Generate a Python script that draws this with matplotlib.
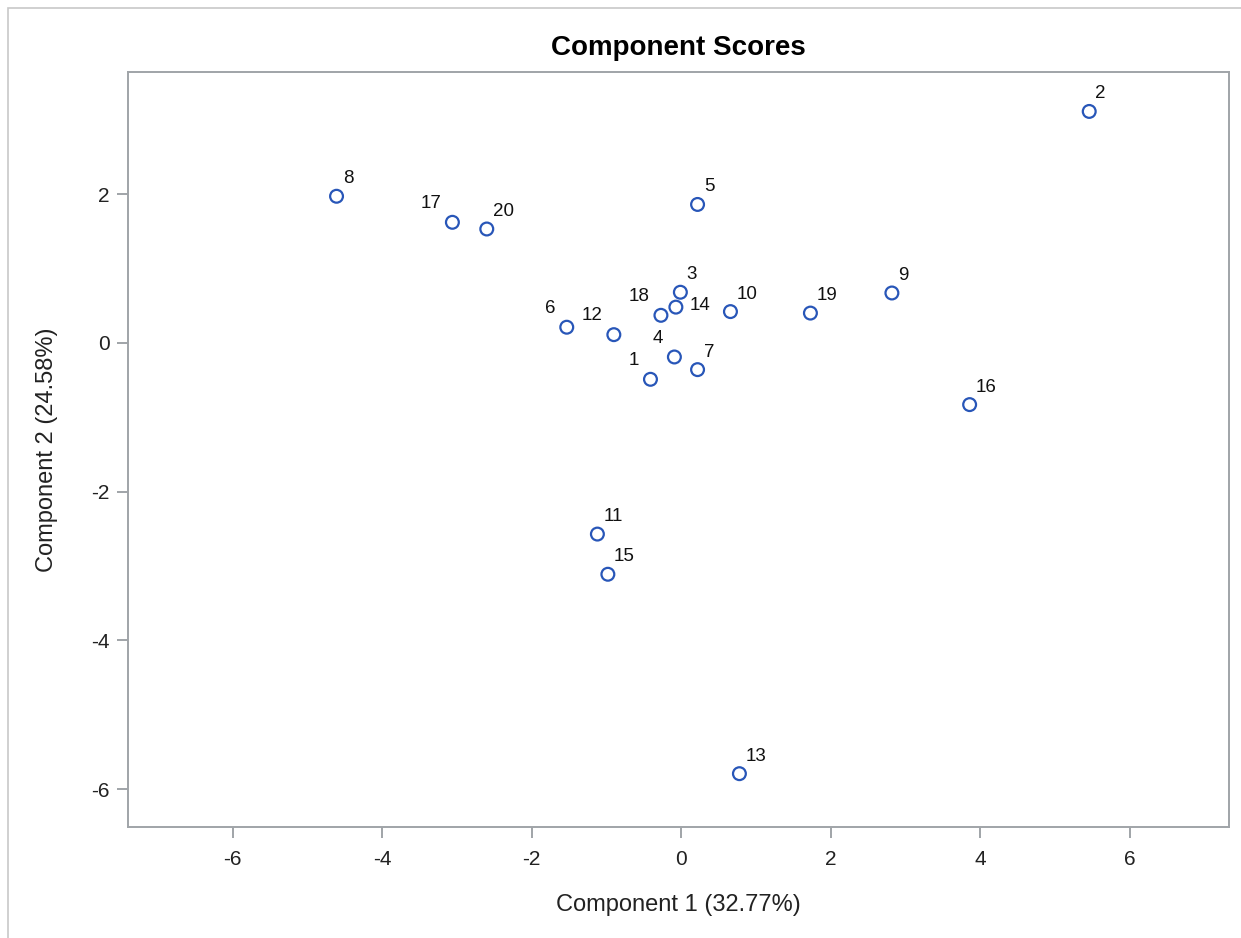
import matplotlib
matplotlib.use("Agg")
import matplotlib.pyplot as plt
from matplotlib.patches import Rectangle

plt.rcParams['font.family'] = ['Liberation Sans', 'DejaVu Sans']

ids = [str(i) for i in range(1, 21)]
comp1 = [-0.41, 5.46, -0.01, -0.09, 0.22, -1.53, 0.22, -4.61, 2.82, 0.66,
         -1.12, -0.90, 0.78, -0.07, -0.98, 3.86, -3.06, -0.27, 1.73, -2.60]
comp2 = [-0.49, 3.11, 0.68, -0.19, 1.86, 0.21, -0.36, 1.97, 0.67, 0.42,
         -2.57, 0.11, -5.79, 0.48, -3.11, -0.83, 1.62, 0.37, 0.40, 1.53]
label_side = ['ul', 'ur', 'ur', 'ul', 'ur', 'ul', 'ur', 'ur', 'ur', 'ur',
              'ur', 'ul', 'ur', 'r', 'ur', 'ur', 'ul', 'ul', 'ur', 'ur']
xticks = [-6, -4, -2, 0, 2, 4, 6]
yticks = [-6, -4, -2, 0, 2]

fig = plt.figure(figsize=(12.41, 9.38), dpi=100)
# outer frame
fig.patches.append(Rectangle((8 / 1241, -0.01), 1.2, 1 - 8 / 938 + 0.01,
                             transform=fig.transFigure, fill=False,
                             edgecolor='#c8c8c8', linewidth=1.2))
ax = fig.add_axes([128 / 1241, (938 - 826.5) / 938,
                   (1229 - 128) / 1241, (826.5 - 72) / 938])

ax.scatter(comp1, comp2, s=85, facecolors='none', edgecolors='#2856b8',
           linewidths=1.6, zorder=3)

for lab, x, y, side in zip(ids, comp1, comp2, label_side):
    if side == 'ur':
        ax.annotate(lab, (x, y), xytext=(4.5, 6.5), textcoords='offset points',
                    ha='left', va='bottom', fontsize=13.5, color='#111111')
    elif side == 'ul':
        ax.annotate(lab, (x, y), xytext=(-8, 7.5), textcoords='offset points',
                    ha='right', va='bottom', fontsize=13.5, color='#111111')
    else:
        ax.annotate(lab, (x, y), xytext=(10, 1), textcoords='offset points',
                    ha='left', va='center', fontsize=13.5, color='#111111')

ax.set_xlim(-7.4, 7.33)
ax.set_ylim(-6.5, 3.64)
ax.set_xticks(xticks)
ax.set_yticks(yticks)
ax.set_xticklabels([str(t) for t in xticks])
ax.set_yticklabels([str(t) for t in yticks])

for sp in ax.spines.values():
    sp.set_color('#a0a4a8')
    sp.set_linewidth(1.4)
ax.tick_params(axis='both', direction='out', length=8, width=1.4,
               color='#a0a4a8', labelsize=15, labelcolor='#222222')
ax.tick_params(axis='x', pad=9)
ax.tick_params(axis='y', pad=5)

ax.set_xlabel('Component 1 (32.77%)', fontsize=17, color='#222222', labelpad=18)
ax.set_ylabel('Component 2 (24.58%)', fontsize=17, color='#222222', labelpad=24)
ax.set_title('Component Scores', fontsize=20, fontweight='bold', pad=12)

fig.savefig('out.png', dpi=100)
